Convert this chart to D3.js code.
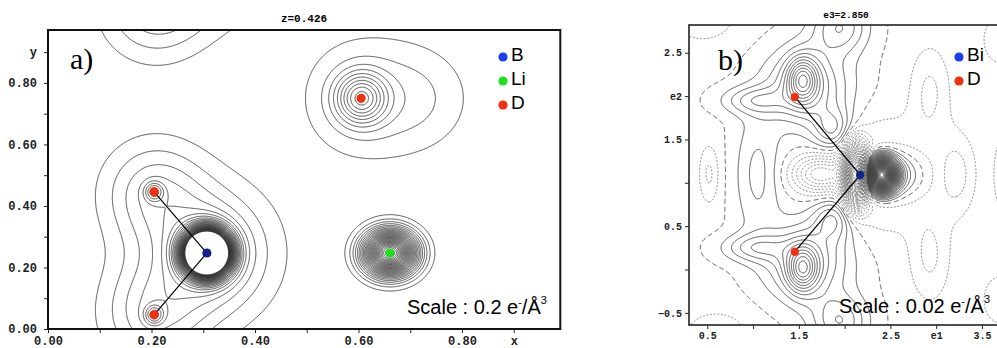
<!DOCTYPE html>
<html>
<head>
<meta charset="utf-8">
<script src="https://cdn.jsdelivr.net/npm/d3@7"></script>
<style>
  body { margin: 0; background: #fff; }
  svg { display: block; }
</style>
</head>
<body>
<svg id="chart" width="997" height="348"></svg>
<script>
// ---- panel a) total density, section z=0.426 ----
const atomElA = ["B", "D", "D", "D", "Li"]
const atomXA = [0.307, 0.205, 0.205, 0.605, 0.661]
const atomYA = [0.247, 0.446, 0.046, 0.750, 0.247]
const bondsA = [[0, 1], [0, 2]]

// density peaks (centre, height, half widths in axis units)
const peakXA   = [0.307, 0.307, 0.307, 0.205, 0.205, 0.205, 0.205, 0.205, 0.205, 0.307, 0.307, 0.605, 0.605, 0.725, 0.661]
const peakYA   = [0.247, 0.247, 0.247, 0.446, 0.446, 0.046, 0.046, 1.046, 1.046, 1.247, 1.247, 0.750, 0.750, 0.750, 0.247]
const peakAmpA = [20, 1.0, 0.9, 0.9, 0.7, 0.9, 0.7, 0.9, 0.7, 1.0, 0.9, 1.6, 0.45, 0.32, 6.0]
const peakWA   = [0.035, 0.058, 0.126, 0.017, 0.097, 0.017, 0.097, 0.017, 0.097, 0.058, 0.126, 0.046, 0.116, 0.100, 0.047]
const peakHA   = [0.059, 0.098, 0.211, 0.029, 0.163, 0.029, 0.163, 0.029, 0.163, 0.098, 0.211, 0.078, 0.200, 0.170, 0.067]
const levelStepA = 0.2
const levelCountA = 31

const xTicksA = [0, 0.1, 0.2, 0.3, 0.4, 0.5, 0.6, 0.7, 0.8, 0.9]
const yTicksA = [0, 0.1, 0.2, 0.3, 0.4, 0.5, 0.6, 0.7, 0.8, 0.9]
const legendA = ["B", "Li", "D"]

// ---- panel b) deformation density, section e3=2.850 ----
const atomElB = ["Bi", "D", "D"]
const atomXB = [2.17, 1.456, 1.456]
const atomYB = [1.09, 1.99, 0.205]
const bondsB = [[0, 1], [0, 2]]

const peakXB   = [1.54, 1.60, 1.88, 1.00, 1.95, 1.54, 1.60, 1.88, 1.00, 1.95, 1.05, 2.40, 2.55, 2.12, 2.40, 1.72, 0.52, 3.23, 3.75, 2.93, 2.93, 3.70, 3.70, 0.45, 0.60]
const peakYB   = [2.19, 2.10, 1.60, 1.95, 2.80, 0.01, 0.10, 0.60, 0.25, -0.60, 1.10, 1.09, 1.09, 1.09, 1.09, 1.10, 1.10, 1.10, 1.10, 2.05, 0.15, 2.65, -0.35, 2.90, -0.75]
const peakAmpB = [0.14, 0.10, 0.08, 0.06, 0.08, 0.14, 0.10, 0.08, 0.06, 0.08, 0.05, 0.8, 0.12, -0.7, -0.07, -0.12, -0.04, -0.04, -0.04, -0.04, -0.04, -0.035, -0.035, -0.03, -0.03]
const peakWB   = [0.16, 0.45, 0.22, 0.35, 0.30, 0.16, 0.45, 0.22, 0.35, 0.30, 0.25, 0.15, 0.30, 0.12, 0.55, 0.28, 0.11, 0.20, 0.12, 0.22, 0.22, 0.20, 0.20, 0.40, 0.40]
const peakHB   = [0.25, 0.45, 0.25, 0.16, 0.30, 0.25, 0.45, 0.25, 0.16, 0.30, 0.70, 0.18, 0.28, 0.30, 0.55, 0.20, 0.34, 0.46, 0.45, 0.52, 0.52, 0.30, 0.30, 0.30, 0.30]
const baseB = -0.004
const levelStepB = 0.02
const levelMinB = -45
const levelMaxB = 50

const xTicksB = [0.5, 1.0, 1.5, 2.0, 2.5, 3.0, 3.5]
const yTicksB = [-0.5, 0, 0.5, 1.0, 1.5, 2.0, 2.5]
const legendB = ["Bi", "D"]

const atomColor = { B: "#121f8c", Bi: "#0f2590", D: "#f2300f", Li: "#1fe01f" }
const legendColor = { B: "#1a3df2", Bi: "#1a3df2", D: "#f2300f", Li: "#1fe01f" }

const svg = d3.select("#chart")
const monoFont = "Liberation Mono, DejaVu Sans Mono, monospace"
const sansFont = "Liberation Sans, Arial, sans-serif"
const serifFont = "Liberation Serif, Times New Roman, serif"

// density grid on a one-pixel lattice, slightly larger than the frame, then contoured
const contourPaths = (g, x, y, px, py, amp, pw, ph, base, levels) => {
    const pad = 4
    const gx0 = Math.floor(x.range()[0]) - pad
    const gy0 = Math.floor(y.range()[1]) - pad
    const nx = Math.ceil(x.range()[1] - x.range()[0]) + 2 * pad
    const ny = Math.ceil(y.range()[0] - y.range()[1]) + 2 * pad
    const values = new Float64Array(nx * ny)
    for (let j = 0; j < ny; j++) {
        const v = y.invert(gy0 + j + 0.5)
        for (let i = 0; i < nx; i++) {
            const u = x.invert(gx0 + i + 0.5)
            let s = base
            for (let k = 0; k < px.length; k++) {
                const a = (u - px[k]) / pw[k]
                const b = (v - py[k]) / ph[k]
                s += amp[k] * Math.exp(-(a * a + b * b))
            }
            values[j * nx + i] = s
        }
    }
    const contours = d3.contours().size([nx, ny]).thresholds(levels)(values)
    return g.append("g")
        .attr("transform", `translate(${gx0},${gy0})`)
        .attr("fill", "none")
        .selectAll("path")
        .data(contours)
        .join("path")
        .attr("d", d3.geoPath())
}

// ================= panel a =================
const xA = d3.scaleLinear().domain([0, 0.99]).range([48, 560.3])
const yA = d3.scaleLinear().domain([0, 0.972]).range([329, 30])

svg.append("clipPath").attr("id", "clipA")
    .append("rect")
    .attr("x", xA(0)).attr("y", yA(0.972))
    .attr("width", xA(0.99) - xA(0)).attr("height", yA(0) - yA(0.972))

const gA = svg.append("g").attr("clip-path", "url(#clipA)")
const levelsA = d3.range(1, levelCountA + 1).map((k) => k * levelStepA)
contourPaths(gA, xA, yA, peakXA, peakYA, peakAmpA, peakWA, peakHA, 0, levelsA)
    .attr("stroke", "#2a2a2a")
    .attr("stroke-width", 0.8)

gA.append("g")
    .selectAll("line")
    .data(bondsA)
    .join("line")
    .attr("x1", (b) => xA(atomXA[b[0]]))
    .attr("y1", (b) => yA(atomYA[b[0]]))
    .attr("x2", (b) => xA(atomXA[b[1]]))
    .attr("y2", (b) => yA(atomYA[b[1]]))
    .attr("stroke", "#000")
    .attr("stroke-width", 1.2)

gA.append("g")
    .selectAll("circle")
    .data(atomElA)
    .join("circle")
    .attr("cx", (d, i) => xA(atomXA[i]))
    .attr("cy", (d, i) => yA(atomYA[i]))
    .attr("r", 4.6)
    .attr("fill", (d) => atomColor[d])

const axisA = svg.append("g")
axisA.append("g")
    .attr("transform", `translate(0,${yA(0)})`)
    .call(d3.axisBottom(xA).tickValues(xTicksA).tickSize(4).tickPadding(3.5)
        .tickFormat((d) => d === 0.9 ? "x" : (Math.round(d * 10) % 2 === 0 ? d3.format(".2f")(d) : "")))
axisA.append("g")
    .attr("transform", `translate(${xA(0)},0)`)
    .call(d3.axisLeft(yA).tickValues(yTicksA).tickSize(4).tickPadding(7)
        .tickFormat((d) => d === 0.9 ? "y" : (Math.round(d * 10) % 2 === 0 ? d3.format(".2f")(d) : "")))
axisA.selectAll(".domain").remove()
axisA.selectAll("line").attr("stroke", "#222").attr("stroke-width", 1)
axisA.selectAll("text")
    .attr("font-family", monoFont)
    .attr("font-weight", "bold")
    .attr("font-size", 12)
    .attr("fill", "#222")

svg.append("rect")
    .attr("x", xA(0)).attr("y", yA(0.972))
    .attr("width", xA(0.99) - xA(0)).attr("height", yA(0) - yA(0.972))
    .attr("fill", "none").attr("stroke", "#111").attr("stroke-width", 2)

svg.append("text")
    .attr("x", 304).attr("y", 22)
    .attr("text-anchor", "middle")
    .attr("font-family", monoFont).attr("font-weight", "bold").attr("font-size", 11)
    .text("z=0.426")

svg.append("text")
    .attr("x", 70).attr("y", 69)
    .attr("font-family", serifFont).attr("font-size", 30)
    .text("a)")

const legA = svg.append("g").selectAll("g").data(legendA).join("g")
    .attr("transform", (d, i) => `translate(503,${57 + i * 24})`)
legA.append("circle").attr("r", 4.6).attr("fill", (d) => legendColor[d])
legA.append("text")
    .attr("x", 8).attr("y", 4)
    .attr("font-family", sansFont).attr("font-size", 19)
    .text((d) => d)

const scaleA = svg.append("text")
    .attr("x", 407).attr("y", 314)
    .attr("font-family", sansFont).attr("font-size", 20)
scaleA.append("tspan").text("Scale : 0.2 e")
scaleA.append("tspan").attr("dy", -8).attr("font-size", 11).text("-")
scaleA.append("tspan").attr("dy", 8).text("/Å")
scaleA.append("tspan").attr("dy", -10).attr("font-size", 11).text("3")

// ================= panel b =================
const xB = d3.scaleLinear().domain([0.3, 3.73]).range([689, 1003])
const yB = d3.scaleLinear().domain([-0.64, 2.82]).range([325, 25])

svg.append("clipPath").attr("id", "clipB")
    .append("rect")
    .attr("x", xB(0.3)).attr("y", yB(2.82))
    .attr("width", xB(3.73) - xB(0.3)).attr("height", yB(-0.64) - yB(2.82))

const gB = svg.append("g").attr("clip-path", "url(#clipB)")
const levelsB = d3.range(levelMinB, levelMaxB + 1).map((k) => k * levelStepB)
contourPaths(gB, xB, yB, peakXB, peakYB, peakAmpB, peakWB, peakHB, baseB, levelsB)
    .attr("stroke", (d) => d.value < -1e-9 ? "#6a6a6a" : "#444")
    .attr("stroke-width", (d) => d.value < -1e-9 ? 0.8 : 0.9)
    .attr("stroke-dasharray", (d) => Math.abs(d.value) < 1e-9 ? "5,3" : (d.value < 0 ? "2,1.6" : null))

gB.append("g")
    .selectAll("line")
    .data(bondsB)
    .join("line")
    .attr("x1", (b) => xB(atomXB[b[0]]))
    .attr("y1", (b) => yB(atomYB[b[0]]))
    .attr("x2", (b) => xB(atomXB[b[1]]))
    .attr("y2", (b) => yB(atomYB[b[1]]))
    .attr("stroke", "#000")
    .attr("stroke-width", 1.2)

gB.append("g")
    .selectAll("circle")
    .data(atomElB)
    .join("circle")
    .attr("cx", (d, i) => xB(atomXB[i]))
    .attr("cy", (d, i) => yB(atomYB[i]))
    .attr("r", 4.2)
    .attr("fill", (d) => atomColor[d])

const fmtB = (d, name, axisLabel) => {
    if (Math.abs(d - name) < 1e-9) return axisLabel
    return Math.abs(Math.round(d * 2) % 2) === 1 ? d3.format(".1f")(d) : ""
}
const axisB = svg.append("g")
axisB.append("g")
    .attr("transform", `translate(0,${yB(-0.64)})`)
    .call(d3.axisBottom(xB).tickValues(xTicksB).tickSize(4).tickPadding(2.5)
        .tickFormat((d) => fmtB(d, 3.0, "e1")))
axisB.append("g")
    .attr("transform", `translate(${xB(0.3)},0)`)
    .call(d3.axisLeft(yB).tickValues(yTicksB).tickSize(4).tickPadding(3)
        .tickFormat((d) => fmtB(d, 2.0, "e2")))
axisB.selectAll(".domain").remove()
axisB.selectAll("line").attr("stroke", "#222")
axisB.selectAll("text")
    .attr("font-family", monoFont)
    .attr("font-weight", "bold")
    .attr("font-size", 10)
    .attr("fill", "#222")

svg.append("rect")
    .attr("x", xB(0.3)).attr("y", yB(2.82))
    .attr("width", xB(3.73) - xB(0.3)).attr("height", yB(-0.64) - yB(2.82))
    .attr("fill", "none").attr("stroke", "#222").attr("stroke-width", 1.6)

svg.append("text")
    .attr("x", 846).attr("y", 18)
    .attr("text-anchor", "middle")
    .attr("font-family", monoFont).attr("font-weight", "bold").attr("font-size", 9.5)
    .text("e3=2.850")

svg.append("text")
    .attr("x", 718).attr("y", 70)
    .attr("font-family", serifFont).attr("font-size", 30)
    .text("b)")

const legB = svg.append("g").selectAll("g").data(legendB).join("g")
    .attr("transform", (d, i) => `translate(959,${57 + i * 24})`)
legB.append("circle").attr("r", 4.6).attr("fill", (d) => legendColor[d])
legB.append("text")
    .attr("x", 8).attr("y", 4)
    .attr("font-family", sansFont).attr("font-size", 19)
    .text((d) => d)

const scaleB = svg.append("text")
    .attr("x", 839).attr("y", 313)
    .attr("font-family", sansFont).attr("font-size", 20)
scaleB.append("tspan").text("Scale : 0.02 e")
scaleB.append("tspan").attr("dy", -8).attr("font-size", 11).text("-")
scaleB.append("tspan").attr("dy", 8).text("/Å")
scaleB.append("tspan").attr("dy", -10).attr("font-size", 11).text("3")
</script>
</body>
</html>
